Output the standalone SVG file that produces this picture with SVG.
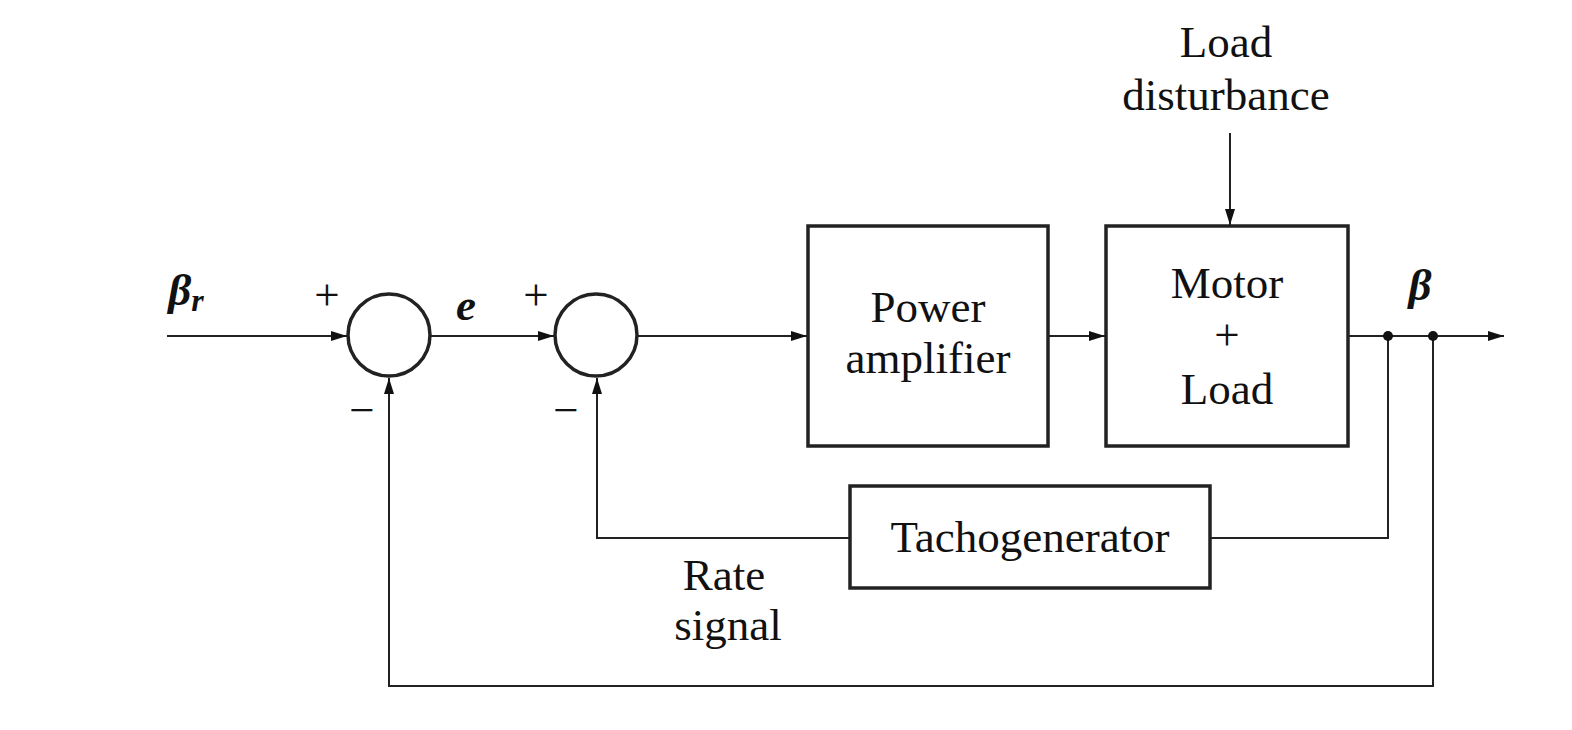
<svg xmlns="http://www.w3.org/2000/svg" width="1572" height="730" viewBox="0 0 1572 730">
<style>
.ln{fill:none;stroke:#222;stroke-width:2}
.bx{fill:none;stroke:#222;stroke-width:3.5}
.t{font-family:"Liberation Serif","Times New Roman",serif;font-size:45px;fill:#111;text-anchor:middle}
.i{font-style:italic;font-weight:bold}
</style>
<defs>
<marker id="ar" viewBox="0 0 16 10" refX="16" refY="5" markerWidth="16" markerHeight="10" markerUnits="userSpaceOnUse" orient="auto">
<path d="M0,0 L16,5 L0,10 z" fill="#111"/>
</marker>
</defs>
<rect width="1572" height="730" fill="#fff"/>
<g id="connectors">
<line class="ln" x1="167" y1="336" x2="347" y2="336" marker-end="url(#ar)"/>
<line class="ln" x1="431" y1="336" x2="554" y2="336" marker-end="url(#ar)"/>
<line class="ln" x1="638" y1="336" x2="807" y2="336" marker-end="url(#ar)"/>
<line class="ln" x1="1048" y1="336" x2="1105" y2="336" marker-end="url(#ar)"/>
<line class="ln" x1="1348" y1="336" x2="1504" y2="336" marker-end="url(#ar)"/>
<line class="ln" x1="1230" y1="133" x2="1230" y2="225" marker-end="url(#ar)"/>
<polyline class="ln" points="1388,336 1388,538 1210,538"/>
<polyline class="ln" points="850,538 597,538 597,378" marker-end="url(#ar)"/>
<polyline class="ln" points="1433,336 1433,686 389,686 389,378" marker-end="url(#ar)"/>
<circle cx="1388" cy="336" r="5" fill="#111"/>
<circle cx="1433" cy="336" r="5" fill="#111"/>
</g>
<g id="sum1">
<circle class="bx" cx="389" cy="335" r="41"/>
<text class="t" x="327" y="310" font-size="36">+</text>
<text class="t" x="362" y="425" font-size="36">−</text>
</g>
<g id="sum2">
<circle class="bx" cx="596" cy="335" r="41"/>
<text class="t" x="536" y="310" font-size="36">+</text>
<text class="t" x="566" y="425" font-size="36">−</text>
</g>
<g id="labels">
<text class="t i" x="186" y="305">β<tspan font-size="32" dy="6">r</tspan></text>
<text class="t i" x="466" y="320">e</text>
<text class="t i" x="1420" y="300">β</text>
<text class="t" x="1226" y="57">Load</text>
<text class="t" x="1226" y="110">disturbance</text>
<text class="t" x="724" y="590">Rate</text>
<text class="t" x="728" y="640">signal</text>
</g>
<g id="power-amplifier">
<rect class="bx" x="808" y="226" width="240" height="220"/>
<text class="t" x="928" y="322">Power</text>
<text class="t" x="928" y="373">amplifier</text>
</g>
<g id="motor-load">
<rect class="bx" x="1106" y="226" width="242" height="220"/>
<text class="t" x="1227" y="298">Motor</text>
<text class="t" x="1227" y="350">+</text>
<text class="t" x="1227" y="404">Load</text>
</g>
<g id="tachogenerator">
<rect class="bx" x="850" y="486" width="360" height="102"/>
<text class="t" x="1030" y="552">Tachogenerator</text>
</g>
</svg>
